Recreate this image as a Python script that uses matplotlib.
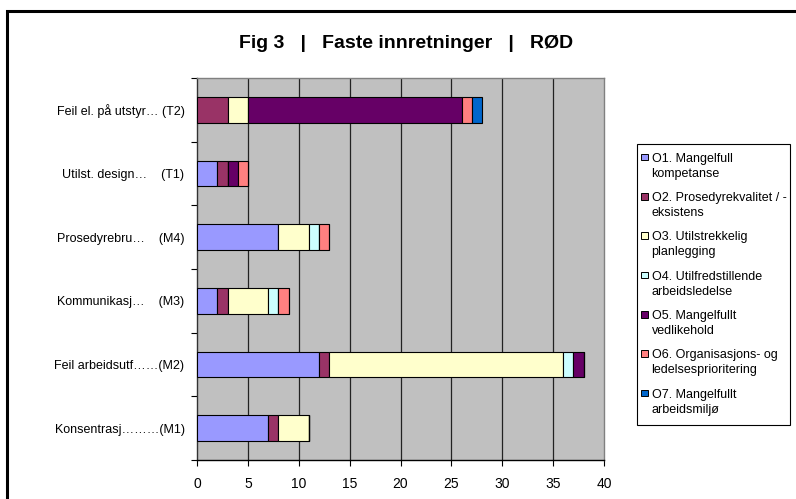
import matplotlib
matplotlib.use("Agg")
import matplotlib.pyplot as plt
from matplotlib.patches import Rectangle
import numpy as np

plt.rcParams['font.family'] = ['Liberation Sans', 'DejaVu Sans']

categories = ["Konsentrasj\u2026\u2026\u2026(M1)", "Feil arbeidsutf\u2026\u2026(M2)",
              "Kommunikasj\u2026    (M3)", "Prosedyrebru\u2026    (M4)",
              "Utilst. design\u2026    (T1)", "Feil el. på utstyr\u2026 (T2)"]

series_names = ["O1. Mangelfull\nkompetanse",
                "O2. Prosedyrekvalitet / -\neksistens",
                "O3. Utilstrekkelig\nplanlegging",
                "O4. Utilfredstillende\narbeidsledelse",
                "O5. Mangelfullt\nvedlikehold",
                "O6. Organisasjons- og\nledelsesprioritering",
                "O7. Mangelfullt\narbeidsmiljø"]

# values per category in order M1, M2, M3, M4, T1, T2
o1 = [7, 12, 2, 8, 2, 0]
o2 = [1, 1, 1, 0, 1, 3]
o3 = [3, 23, 4, 3, 0, 2]
o4 = [0, 1, 1, 1, 0, 0]
o5 = [0, 1, 0, 0, 1, 21]
o6 = [0, 0, 1, 1, 1, 1]
o7 = [0, 0, 0, 0, 0, 1]
series = [o1, o2, o3, o4, o5, o6, o7]
colors = ["#9999FF", "#993366", "#FFFFCC", "#CCFFFF", "#660066", "#FF8080", "#0066CC"]

title = "Fig 3   |   Faste innretninger   |   RØD"
xticks = [0, 5, 10, 15, 20, 25, 30, 35, 40]

W, H = 796, 499
fig = plt.figure(figsize=(W / 100, H / 100), dpi=100)
fig.patch.set_facecolor("white")


def fx(px):
    return px / W


def fy(py):
    return 1 - py / H


ax = fig.add_axes([fx(197), fy(460), (604 - 197) / W, (460 - 78) / H])
ax.set_facecolor("#C0C0C0")

y = np.arange(len(categories))
left = np.zeros(len(categories))
for vals, col in zip(series, colors):
    v = np.array(vals, dtype=float)
    ax.barh(y, v, left=left, height=0.4, color=col, edgecolor="black", linewidth=0.8, zorder=3)
    left += v

ax.set_xlim(0, 40)
ax.set_ylim(-0.5, len(categories) - 0.5)
ax.set_xticks(xticks)
ax.set_xticklabels([str(t) for t in xticks], fontsize=10)
ax.set_yticks(y)
ax.set_yticklabels(categories, fontsize=9)
ax.tick_params(axis="y", which="major", length=0, pad=9)
ax.set_yticks(np.arange(-0.5, len(categories), 1.0), minor=True)
ax.tick_params(axis="y", which="minor", length=4, direction="out", color="black", width=0.8)
ax.tick_params(axis="x", which="major", length=4, direction="out", color="black", width=0.8, pad=8)

for xv in xticks[1:-1]:
    ax.axvline(xv, color="#222222", linewidth=0.9, zorder=1)

ax.spines["left"].set_color("#333333")
ax.spines["bottom"].set_color("black")
ax.spines["top"].set_color("#808080")
ax.spines["right"].set_color("#808080")
for s in ax.spines.values():
    s.set_linewidth(1.0)

fig.text(fx(406), fy(43), title, ha="center", va="center", fontsize=14, fontweight="bold")

# Legend (Excel-style, square aligned with first line)
fig.patches.append(Rectangle((fx(637), fy(425)), (790 - 637) / W, (425 - 144) / H,
                             transform=fig.transFigure, fill=True, facecolor="white",
                             edgecolor="black", linewidth=0.8))
y0, step, line_gap = 157.3, 39.3, 15.0
for i, (name, col) in enumerate(zip(series_names, colors)):
    yc = y0 + i * step
    fig.patches.append(Rectangle((fx(641), fy(yc + 3)), 6.5 / W, 6.5 / H,
                                 transform=fig.transFigure, facecolor=col,
                                 edgecolor="black", linewidth=0.7))
    for j, line in enumerate(name.split("\n")):
        fig.text(fx(651.5), fy(yc + j * line_gap), line, ha="left", va="center_baseline",
                 fontsize=9)

fig.patches.append(Rectangle((fx(7.5), -0.05), 1.1, fy(10.5) + 0.05,
                             transform=fig.transFigure, fill=False,
                             edgecolor="black", linewidth=2.2))

fig.savefig("out.png", dpi=100)
